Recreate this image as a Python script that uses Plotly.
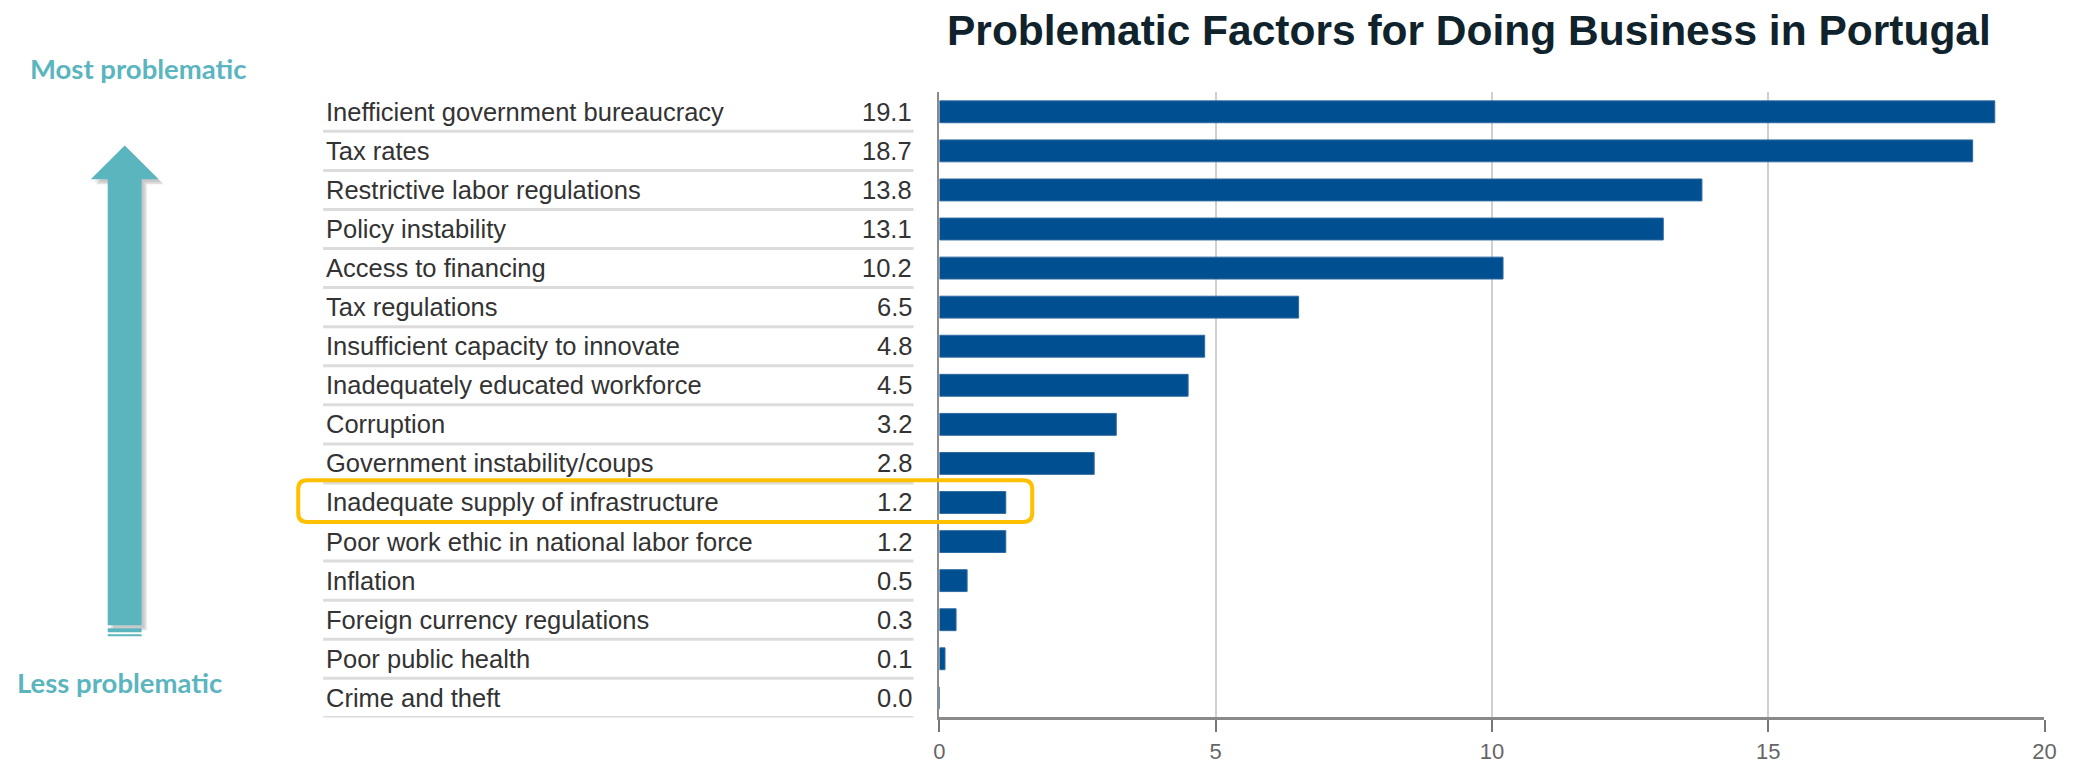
import plotly.graph_objects as go

W, H = 2075, 764

categories = [
    "Inefficient government bureaucracy",
    "Tax rates",
    "Restrictive labor regulations",
    "Policy instability",
    "Access to financing",
    "Tax regulations",
    "Insufficient capacity to innovate",
    "Inadequately educated workforce",
    "Corruption",
    "Government instability/coups",
    "Inadequate supply of infrastructure",
    "Poor work ethic in national labor force",
    "Inflation",
    "Foreign currency regulations",
    "Poor public health",
    "Crime and theft",
]
values = [19.1, 18.7, 13.8, 13.1, 10.2, 6.5, 4.8, 4.5, 3.2, 2.8, 1.2, 1.2, 0.5, 0.3, 0.1, 0.0]
x_ticks = [0, 5, 10, 15, 20]
title_text = "Problematic Factors for Doing Business in Portugal"


def px(x):
    return ((x - 5) / 0.994) / W


def py(y):
    return 1 - ((y + 1.6) / 0.995) / H


BAR = "#004f90"
TEAL = "#5bb5bf"
TXT = "#333333"
FONT = "Liberation Sans, Arial"

fig = go.Figure()
fig.add_trace(go.Bar(
    x=values, y=categories, orientation="h",
    marker=dict(color=BAR, line=dict(color="#2f6aa0", width=1)),
    hoverinfo="x+y",
))

shapes = []
annotations = []

# table: labels, values and row separators
for i, (c, v) in enumerate(zip(categories, values)):
    annotations.append(dict(x=px(324), y=c, xref="paper", yref="y", text=c, showarrow=False,
                            xanchor="left", yanchor="middle",
                            font=dict(family=FONT, size=25.5, color=TXT)))
    annotations.append(dict(x=px(915), y=c, xref="paper", yref="y", text=f"{v:.1f}", showarrow=False,
                            xanchor="right", yanchor="middle",
                            font=dict(family=FONT, size=25.5, color=TXT)))
    shapes.append(dict(type="line", xref="paper", yref="y", x0=px(323), x1=px(915),
                       y0=i + 0.5, y1=i + 0.5, line=dict(color="#dcdcdc", width=3), layer="below"))

# title
annotations.append(dict(x=px(1472), y=py(29), xref="paper", yref="paper", text="<b>" + title_text + "</b>",
                        showarrow=False, xanchor="center", yanchor="middle",
                        font=dict(family=FONT, size=42.5, color="#10232d")))

# side labels
annotations.append(dict(x=px(138), y=py(67), xref="paper", yref="paper", text="<b>Most problematic</b>",
                        showarrow=False, xanchor="center", yanchor="middle",
                        font=dict(family="Lato", size=27.5, color=TEAL)))
annotations.append(dict(x=px(119), y=py(686), xref="paper", yref="paper", text="<b>Less problematic</b>",
                        showarrow=False, xanchor="center", yanchor="middle",
                        font=dict(family="Lato", size=27.5, color=TEAL)))


def arrow_path(dx=0, dy=0):
    pts = [(124, 145), (158, 179), (141, 179), (141, 628), (107, 628), (107, 179), (90, 179)]
    s = ""
    for k, (x, y) in enumerate(pts):
        s += ("M" if k == 0 else "L") + f"{px(x + dx)},{py(y + dy)} "
    return s + "Z"


shapes.append(dict(type="path", xref="paper", yref="paper", path=arrow_path(5, 5),
                   fillcolor="rgba(0,0,0,0.12)", line=dict(width=0), layer="below"))
shapes.append(dict(type="path", xref="paper", yref="paper", path=arrow_path(3, 3),
                   fillcolor="rgba(0,0,0,0.10)", line=dict(width=0), layer="below"))
shapes.append(dict(type="path", xref="paper", yref="paper", path=arrow_path(),
                   fillcolor=TEAL, line=dict(width=0), layer="above"))
for (y0, y1) in [(631, 635), (637, 639)]:
    shapes.append(dict(type="rect", xref="paper", yref="paper", x0=px(107), x1=px(141),
                       y0=py(y1), y1=py(y0), fillcolor=TEAL, line=dict(width=0)))

# highlight rounded box
x0, x1, y0, y1, r = 298, 1034, 482, 524, 9
path = (f"M{px(x0 + r)},{py(y0)} L{px(x1 - r)},{py(y0)} Q{px(x1)},{py(y0)} {px(x1)},{py(y0 + r)} "
        f"L{px(x1)},{py(y1 - r)} Q{px(x1)},{py(y1)} {px(x1 - r)},{py(y1)} "
        f"L{px(x0 + r)},{py(y1)} Q{px(x0)},{py(y1)} {px(x0)},{py(y1 - r)} "
        f"L{px(x0)},{py(y0 + r)} Q{px(x0)},{py(y0)} {px(x0 + r)},{py(y0)} Z")
shapes.append(dict(type="path", xref="paper", yref="paper", path=path,
                   line=dict(color="#ffc000", width=4), fillcolor="rgba(0,0,0,0)", layer="above"))

fig.update_layout(
    width=W, height=H,
    margin=dict(l=0, r=0, t=0, b=0),
    paper_bgcolor="white", plot_bgcolor="white",
    showlegend=False,
    bargap=0.44,
    xaxis=dict(domain=[px(941), px(2049)], range=[0, 20], tickvals=x_ticks,
               showgrid=True, gridcolor="#d0d0d0", gridwidth=2, zeroline=False,
               showline=True, linecolor="#8a8a8a", linewidth=3,
               ticks="outside", ticklen=12, tickcolor="#777777", tickwidth=2,
               tickfont=dict(family=FONT, size=22, color="#666666")),
    yaxis=dict(domain=[py(720.7), py(91.3)], categoryorder="array", categoryarray=categories,
               range=[15.5, -0.5], showticklabels=False, ticks="", showgrid=False, zeroline=False,
               showline=True, linecolor="#8a8a8a", linewidth=2),
    shapes=shapes,
    annotations=annotations,
)

post = """
document.documentElement.style.margin='0';
document.body.style.margin='0';
document.body.style.overflow='hidden';
"""

fig.write_html("out.html", post_script=post,
               config={"displayModeBar": False, "responsive": False})
